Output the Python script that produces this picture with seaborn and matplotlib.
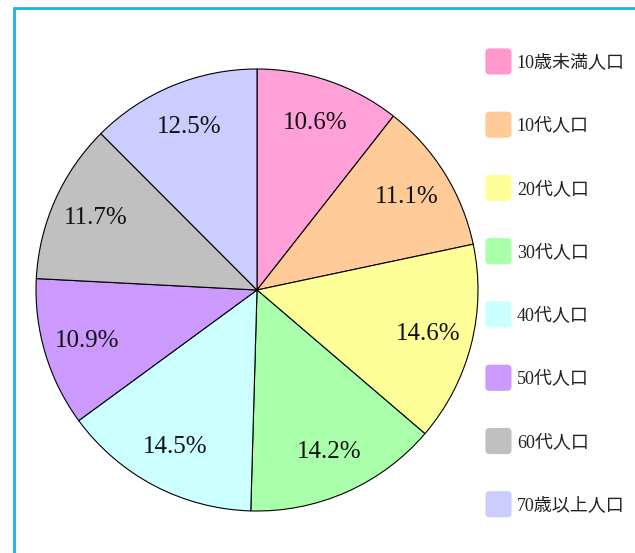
import matplotlib
matplotlib.use('Agg')
import matplotlib.pyplot as plt
import matplotlib.patches as mpatches
from matplotlib.legend_handler import HandlerPatch
import seaborn as sns

# age groups and their share of population (%)
groups = ['10歳未満人口', '10代人口', '20代人口', '30代人口',
          '40代人口', '50代人口', '60代人口', '70歳以上人口']
shares = [10.6, 11.1, 14.6, 14.2, 14.5, 10.9, 11.7, 12.5]
colors = ['#FFA0D8', '#FFCC99', '#FFFF99', '#AAFFAA',
          '#CCFFFF', '#CC99FF', '#C0C0C0', '#CCCCFF']

sns.set_theme(style='white')
plt.rcParams['font.family'] = ['Liberation Serif', 'Noto Sans CJK JP', 'DejaVu Sans']

fig = plt.figure(figsize=(6.35, 5.53), dpi=100)
ax = fig.add_axes([36 / 635, 42 / 553, 442 / 635, 442 / 553])

pal = sns.color_palette(colors)
labels_iter = iter(shares)
wedges, texts, autotexts = ax.pie(
    shares, colors=pal, startangle=90, counterclock=False,
    autopct=lambda p: f'{next(labels_iter)}%', pctdistance=0.8,
    wedgeprops=dict(edgecolor='black', linewidth=0.8),
    textprops=dict(fontsize=18, color='#111111'))
ax.set_xlim(-1.0, 1.0)
ax.set_ylim(-1.0, 1.0)
ax.set_aspect('equal')


# rounded squares in the legend
class RoundBox(HandlerPatch):
    def create_artists(self, legend, orig_handle, xdescent, ydescent,
                       width, height, fontsize, trans):
        p = mpatches.FancyBboxPatch((-xdescent + 1, -ydescent + 1), width - 2, height - 2,
                                    boxstyle='round,pad=0,rounding_size=3',
                                    facecolor=orig_handle.get_facecolor(),
                                    edgecolor='none', transform=trans)
        return [p]


handles = [mpatches.Patch(facecolor=c) for c in colors]
handles[0].set_facecolor('#FF99CC')
leg = fig.legend(handles, groups, loc='upper left',
                 bbox_to_anchor=(484 / 635, 1 - 47 / 553),
                 frameon=False, fontsize=13, borderpad=0, borderaxespad=0,
                 handlelength=1.6, handleheight=2.09, handletextpad=0.22,
                 labelspacing=1.9, handler_map={mpatches.Patch: RoundBox()})
for t in leg.get_texts():
    t.set_color('#222222')

# blue frame along the top and left edge
frame = mpatches.Rectangle((14 / 635, -0.1), 1.2, 1 - 8 / 553 + 0.1,
                           transform=fig.transFigure, fill=False,
                           edgecolor='#1AB2E6', linewidth=2, clip_on=False)
fig.add_artist(frame)

fig.savefig('out.png', dpi=100)
